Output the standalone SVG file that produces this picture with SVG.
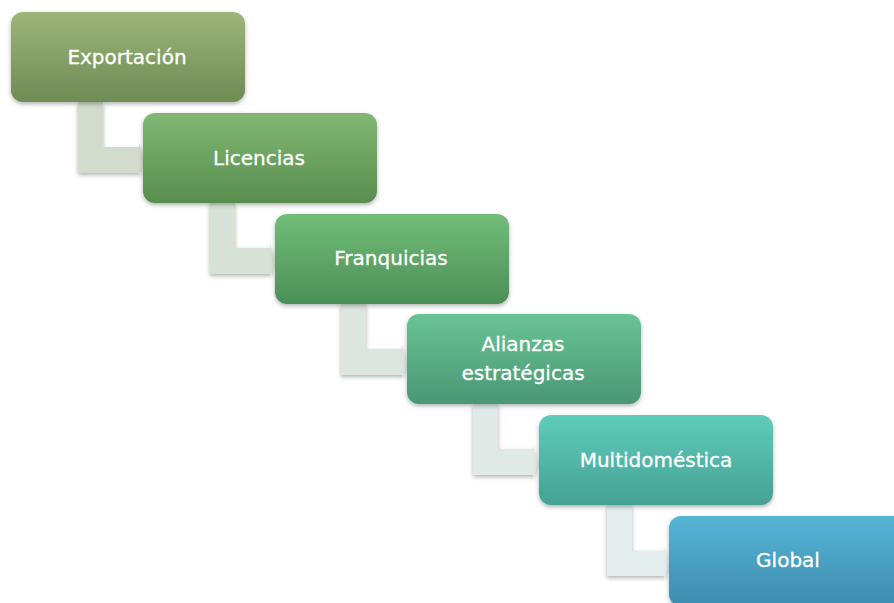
<svg xmlns="http://www.w3.org/2000/svg" width="894" height="603" viewBox="0 0 894 603">
<defs>
<linearGradient id="g1" x1="0" y1="0" x2="0" y2="1"><stop offset="0" stop-color="#9cb679"/><stop offset="1" stop-color="#6e8b54"/></linearGradient>
<linearGradient id="g2" x1="0" y1="0" x2="0" y2="1"><stop offset="0" stop-color="#80b874"/><stop offset="1" stop-color="#588e4e"/></linearGradient>
<linearGradient id="g3" x1="0" y1="0" x2="0" y2="1"><stop offset="0" stop-color="#71bd77"/><stop offset="1" stop-color="#4c8f58"/></linearGradient>
<linearGradient id="g4" x1="0" y1="0" x2="0" y2="1"><stop offset="0" stop-color="#68c495"/><stop offset="1" stop-color="#4a9773"/></linearGradient>
<linearGradient id="g5" x1="0" y1="0" x2="0" y2="1"><stop offset="0" stop-color="#5ecdbc"/><stop offset="1" stop-color="#46a193"/></linearGradient>
<linearGradient id="g6" x1="0" y1="0" x2="0" y2="1"><stop offset="0" stop-color="#57b5d6"/><stop offset="1" stop-color="#3d8cae"/></linearGradient>
<filter id="sh" x="-10%" y="-10%" width="120%" height="130%"><feDropShadow dx="0" dy="2" stdDeviation="2" flood-color="#000" flood-opacity="0.3"/></filter>
</defs>
<style>
.box{filter:url(#sh)}
.lbl{font-family:"DejaVu Sans","Open Sans",sans-serif;font-size:20px;fill:#ffffff;stroke:#ffffff;stroke-width:0.3px;text-anchor:middle}
.con{filter:url(#sh)}
</style>
<g id="connectors">
<path class="con" fill="#d3dccc" d="M78 102 H103 V147 H139 V142 L144 160 L139 177 V173 H78 Z"/>
<path class="con" fill="#d7e2d6" d="M210 203 H235 V248 H270 V243 L275 261 L270 278 V274 H210 Z"/>
<path class="con" fill="#dbe7de" d="M341 304 H366 V349 H402 V344 L407 362 L402 379 V375 H341 Z"/>
<path class="con" fill="#dfeae6" d="M473 404 H498 V449 H533 V444 L538 462 L533 479 V475 H473 Z"/>
<path class="con" fill="#e4eeee" d="M607 505 H632 V551 H664 V546 L669 563 L664 580 V576 H607 Z"/>
</g>
<g id="n1"><rect class="box" x="11" y="12" width="234" height="90" rx="12" fill="url(#g1)"/><text class="lbl" x="127" y="64">Exportación</text></g>
<g id="n2"><rect class="box" x="143" y="113" width="234" height="90" rx="12" fill="url(#g2)"/><text class="lbl" x="259" y="165">Licencias</text></g>
<g id="n3"><rect class="box" x="275" y="214" width="234" height="90" rx="12" fill="url(#g3)"/><text class="lbl" x="391" y="265">Franquicias</text></g>
<g id="n4"><rect class="box" x="407" y="314" width="234" height="90" rx="12" fill="url(#g4)"/><text class="lbl" x="523" y="351">Alianzas</text><text class="lbl" x="523" y="380">estratégicas</text></g>
<g id="n5"><rect class="box" x="539" y="415" width="234" height="90" rx="12" fill="url(#g5)"/><text class="lbl" x="656" y="467">Multidoméstica</text></g>
<g id="n6"><rect class="box" x="669" y="516" width="240" height="90" rx="12" fill="url(#g6)"/><text class="lbl" x="788" y="567">Global</text></g>
</svg>
